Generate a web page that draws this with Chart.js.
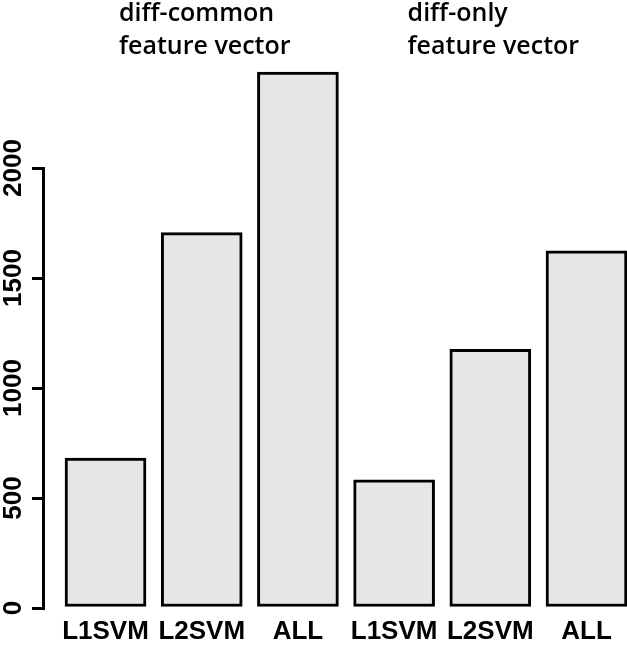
<!DOCTYPE html>
<html>
<head>
<meta charset="utf-8">
<script src="https://cdn.jsdelivr.net/npm/chart.js@4/dist/chart.umd.min.js"></script>
<style>
  html, body { margin: 0; padding: 0; background: #ffffff; }
  #wrap { width: 627px; height: 653px; }
</style>
</head>
<body>
<div id="wrap"><canvas id="c" width="627" height="653"></canvas></div>
<script>
// ---- data ----
const categories = ["L1SVM", "L2SVM", "ALL", "L1SVM", "L2SVM", "ALL"];
const counts = [682, 1706, 2436, 583, 1176, 1623];
const yTicks = [0, 500, 1000, 1500, 2000];
const groupTitles = [["diff-common", "feature vector"], ["diff-only", "feature vector"]];
const groupStart = [0, 3];

const groupTitlePlugin = {
  id: 'groupTitles',
  afterDraw(chart) {
    const ctx = chart.ctx;
    const xs = chart.scales.x;
    ctx.save();
    ctx.fillStyle = '#000';
    ctx.font = '600 25px "Open Sans"';
    ctx.textAlign = 'left';
    ctx.textBaseline = 'alphabetic';
    groupTitles.forEach((lines, g) => {
      const x = xs.getPixelForValue(groupStart[g] + 0.14);
      lines.forEach((t, k) => ctx.fillText(t, x, 21 + k * 33));
    });
    ctx.restore();
  }
};

new Chart(document.getElementById('c'), {
  type: 'bar',
  data: {
    datasets: [{
      data: counts.map((v, i) => ({ x: i, y: v })),
      backgroundColor: '#e6e6e6',
      borderColor: '#000000',
      borderWidth: 3,
      borderSkipped: false,
      barThickness: 81,
      clip: false
    }]
  },
  options: {
    responsive: false,
    animation: false,
    layout: { padding: { top: 168, right: 0, bottom: 0, left: 0 } },
    plugins: { legend: { display: false }, tooltip: { enabled: false } },
    scales: {
      x: {
        type: 'linear',
        offset: false,
        min: -0.65,
        max: 5.421,
        afterBuildTicks(scale) { scale.ticks = categories.map((_, i) => ({ value: i })); },
        afterFit(scale) { scale.height = 45; scale.paddingLeft = 0; scale.paddingRight = 0; },
        grid: { display: false, drawTicks: false, offset: false },
        border: { display: false },
        ticks: {
          autoSkip: false,
          maxRotation: 0,
          padding: 8,
          color: '#000',
          font: { family: '"Liberation Sans", Arial, sans-serif', size: 26, weight: 'bold' },
          callback: (v) => categories[v]
        }
      },
      y: {
        min: 0,
        max: 2000,
        afterBuildTicks(scale) { scale.ticks = yTicks.map(v => ({ value: v })); },
        afterFit(scale) { scale.width = 43; scale.paddingTop = 0; scale.paddingBottom = 0; },
        grid: { drawOnChartArea: false, drawTicks: true, tickLength: 11, color: '#000', lineWidth: 3 },
        border: { display: true, color: '#000', width: 3 },
        ticks: {
          minRotation: 90,
          maxRotation: 90,
          crossAlign: 'center',
          padding: -11,
          color: '#000',
          font: { family: '"Liberation Sans", Arial, sans-serif', size: 26, weight: 'bold' },
          callback: (v) => String(v)
        }
      }
    }
  },
  plugins: [groupTitlePlugin]
});
</script>
</body>
</html>
